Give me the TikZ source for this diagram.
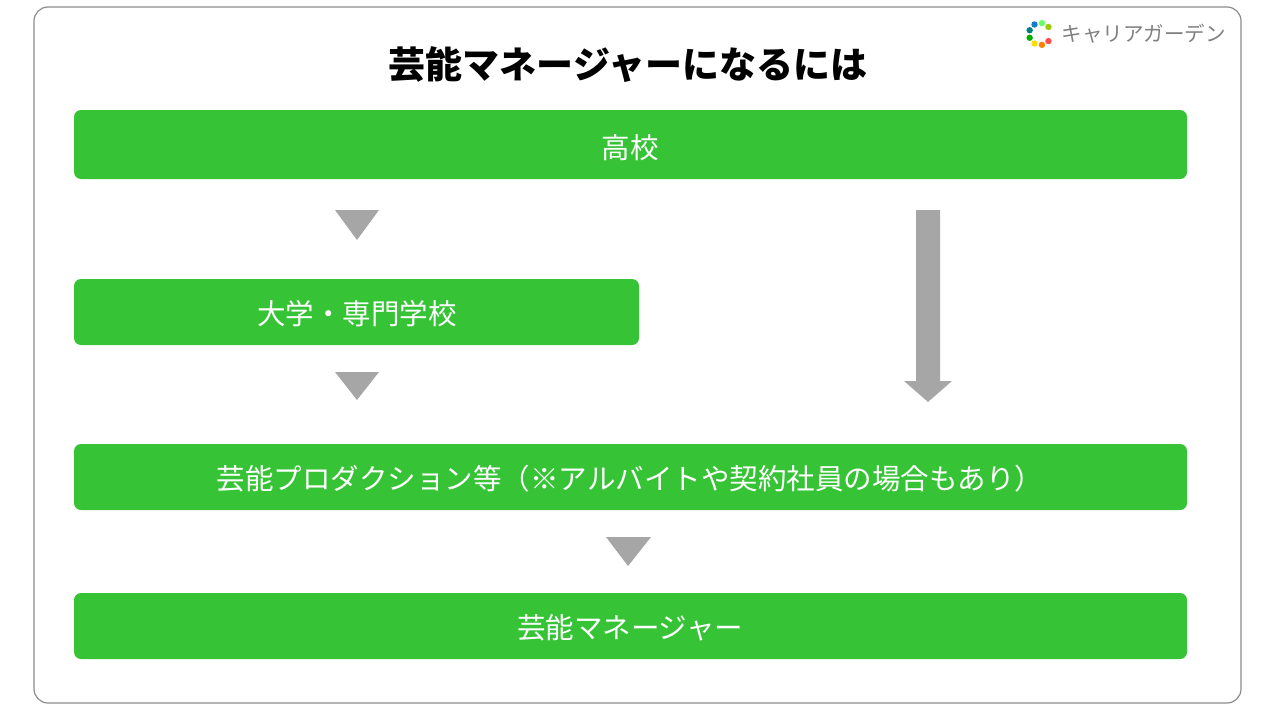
\documentclass[tikz,border=0pt]{standalone}
\usepackage{fontspec}
\setmainfont{Noto Sans CJK JP}
\newfontfamily\jpbold{Noto Sans CJK JP}[BoldFont={* Bold}]
\definecolor{stepgreen}{HTML}{36C436}
\definecolor{arrowgray}{HTML}{A6A6A6}
\begin{document}
\begin{tikzpicture}[x=1pt,y=-1pt,
  step box/.style={fill=stepgreen,rounded corners=7pt},
  step text/.style={text=white,font=\fontsize{28.5}{28.5}\selectfont},
  down tri/.style={fill=arrowgray}
]
\useasboundingbox (0,0) rectangle (1280,720);
\draw[rounded corners=14pt,draw=gray!90,line width=1.2pt] (34,7) rectangle (1241,703);
% logo
\foreach \A/\C in {40/red!70,80/orange,120/yellow!80!orange,160/green!70!black,200/teal,240/cyan!60!blue,280/green!60,320/lime!80!black}
  \fill[\C] (1040,34) ++(\A:11) circle (3.2);
\node[anchor=west,text=gray,font=\fontsize{20.5}{20.5}\selectfont] (logo) at (1058,34) {キャリアガーデン};
\node[font=\fontsize{37}{37}\selectfont\bfseries] (title) at (628,65) {芸能マネージャーになるには};
% boxes
\fill[step box] (74,110) rectangle (1187,179);
\node[step text] (highschool) at (630,148) {高校};
\fill[step box] (74,279) rectangle (639,345);
\node[step text] (college) at (357,314) {大学・専門学校};
\fill[step box] (74,444) rectangle (1187,510);
\node[step text] (agency) at (630,479) {芸能プロダクション等（※アルバイトや契約社員の場合もあり）};
\fill[step box] (74,593) rectangle (1187,659);
\node[step text] (manager) at (630,628) {芸能マネージャー};
% arrows
\fill[down tri] (335,210) -- (379,210) -- (357,240) -- cycle;
\fill[down tri] (335,372) -- (379,372) -- (357,400) -- cycle;
\fill[down tri] (606,537) -- (651,537) -- (628,566) -- cycle;
\fill[down tri] (916,210) -- (940,210) -- (940,381) -- (952,381) -- (928,402) -- (904,381) -- (916,381) -- cycle;
\end{tikzpicture}
\end{document}
